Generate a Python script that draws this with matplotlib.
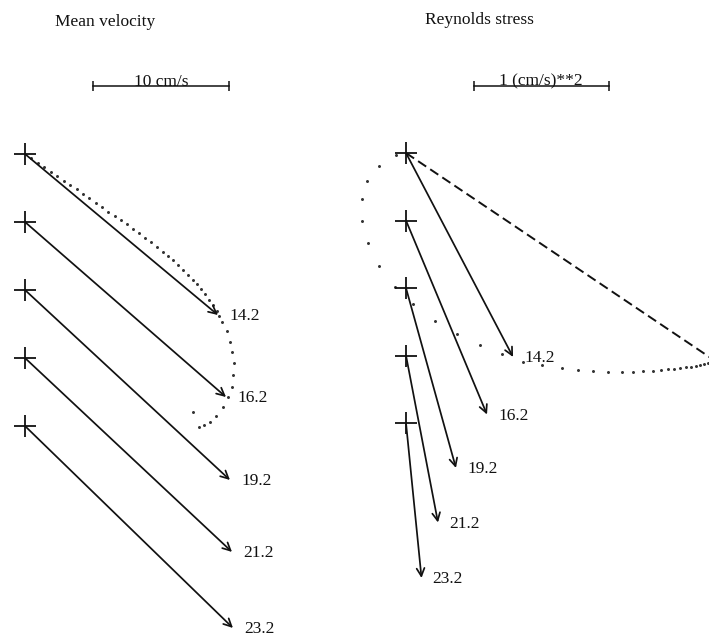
#!/usr/bin/env python3
"""Mean velocity and Reynolds stress vectors at five depths, with the
hodograph traced out as dots, side by side. Writes out.png."""
import matplotlib
matplotlib.use("Agg")
import matplotlib.pyplot as plt

# depth labels, one station per cross (top to bottom)
depths = ["14.2", "16.2", "19.2", "21.2", "23.2"]

# mean velocity components (cm/s)
vel_u = [14.19, 14.78, 15.07, 15.22, 15.29]
vel_v = [-11.84, -12.87, -13.97, -14.26, -14.85]
vel_step = 5.0        # vertical spacing between stations, cm/s
vel_scale = 10.0      # scale bar, cm/s

# velocity hodograph at the top station (cm/s)
vel_path_u = [0.44, 0.96, 1.40, 1.91, 2.35, 2.87, 3.31, 3.82, 4.26, 4.71,
              5.22, 5.66, 6.10, 6.62, 7.06, 7.50, 7.94, 8.38, 8.82, 9.26,
              9.71, 10.15, 10.51, 10.88, 11.25, 11.62, 11.99, 12.35, 12.65,
              12.94, 13.24, 13.53, 13.82, 14.12, 14.26, 14.49, 14.85, 15.07,
              15.22, 15.37, 15.29, 15.22, 14.93, 14.56, 14.04, 13.60, 13.16,
              12.79, 12.35]
vel_path_v = [-0.29, -0.66, -0.96, -1.32, -1.62, -1.99, -2.28, -2.57, -2.94,
              -3.24, -3.60, -3.90, -4.26, -4.56, -4.85, -5.15, -5.51, -5.81,
              -6.18, -6.47, -6.84, -7.21, -7.50, -7.79, -8.16, -8.53, -8.90,
              -9.26, -9.56, -9.93, -10.29, -10.74, -11.10, -11.54, -11.91,
              -12.35, -13.01, -13.82, -14.56, -15.37, -16.25, -17.13, -17.87,
              -18.60, -19.26, -19.71, -19.93, -20.07, -18.97]

# Reynolds stress components ((cm/s)**2)
rs_u = [0.793, 0.600, 0.370, 0.237, 0.115]
rs_v = [-1.511, -1.437, -1.333, -1.237, -1.148]
rs_step = 0.5
rs_scale = 1.0

# stress hodograph at the top station, and its major axis
rs_path_u = [-0.074, -0.200, -0.289, -0.326, -0.326, -0.281, -0.200, -0.081,
             0.052, 0.215, 0.378, 0.548, 0.711, 0.867, 1.007, 1.156, 1.274,
             1.385, 1.496, 1.600, 1.681, 1.756, 1.830, 1.889, 1.941, 1.985,
             2.030, 2.074, 2.111, 2.148, 2.178, 2.207, 2.237]
rs_path_v = [-0.015, -0.096, -0.207, -0.341, -0.504, -0.667, -0.837, -0.993,
             -1.119, -1.244, -1.341, -1.422, -1.489, -1.548, -1.570, -1.593,
             -1.607, -1.615, -1.622, -1.622, -1.622, -1.615, -1.615, -1.607,
             -1.600, -1.600, -1.593, -1.585, -1.585, -1.578, -1.570, -1.563,
             -1.556]
rs_axis_u = [0.0, 2.29]
rs_axis_v = [0.0, -1.54]

FONT = "Liberation Serif"
INK = "#111111"
W, H = 709, 640


def draw_panel(ax, us, vs, step, scale, bar_text):
    for i, (u, v) in enumerate(zip(us, vs)):
        y0 = -i * step
        ax.plot([0], [y0], marker="+", ms=16, mew=1.3, color=INK)
        ax.annotate("", xy=(u, y0 + v), xytext=(0, y0),
                    arrowprops=dict(arrowstyle="->,head_length=0.4,head_width=0.2",
                                    lw=1.25, color=INK, shrinkA=0, shrinkB=0,
                                    mutation_scale=14))
        ax.annotate(depths[i], xy=(u, y0 + v), xytext=(8, -1),
                    textcoords="offset points", ha="left", va="center",
                    fontsize=12.5, family=FONT, color=INK)

    # scale bar one station above the top cross
    x0, yb = step, step
    ax.plot([x0, x0 + scale], [yb, yb], color=INK, lw=1.1)
    ax.plot([x0, x0 + scale], [yb, yb], ls="none", marker="|", ms=7,
            mew=1.1, color=INK)
    ax.annotate(bar_text, xy=(x0 + scale / 2, yb), xytext=(0, 0),
                textcoords="offset points", ha="center", va="baseline",
                fontsize=12.5, family=FONT, color=INK)


def main() -> None:
    fig = plt.figure(figsize=(W / 100, H / 100), dpi=100)
    fig.patch.set_facecolor("white")

    # left panel: 13.6 px per cm/s, top cross at pixel (25, 154)
    ax_l = fig.add_axes([0, 0, 354 / W, 1])
    px = 13.6
    ax_l.set_xlim(-25 / px, (354 - 25) / px)
    ax_l.set_ylim(-(H - 154) / px, 154 / px)
    ax_l.axis("off")
    ax_l.plot(vel_path_u, vel_path_v, ls="none", marker="o", ms=1.15,
              color="#333333")
    draw_panel(ax_l, vel_u, vel_v, vel_step, vel_scale, "10 cm/s")

    # right panel: 135 px per (cm/s)**2, top cross at pixel (406, 153)
    ax_r = fig.add_axes([354 / W, 0, (W - 354) / W, 1])
    pr = 135.0
    ax_r.set_xlim((354 - 406) / pr, (W - 406) / pr)
    ax_r.set_ylim(-(H - 153) / pr, 153 / pr)
    ax_r.axis("off")
    ax_r.plot(rs_axis_u, rs_axis_v, ls=(0, (5, 2.5)), lw=1.4, color=INK)
    ax_r.plot(rs_path_u, rs_path_v, ls="none", marker="o", ms=1.15,
              color="#333333")
    draw_panel(ax_r, rs_u, rs_v, rs_step, rs_scale, "1 (cm/s)**2")

    fig.text(55 / W, 1 - 22 / H, "Mean velocity", ha="left", va="center",
             fontsize=12.5, family=FONT, color=INK)
    fig.text(425 / W, 1 - 20 / H, "Reynolds stress", ha="left", va="center",
             fontsize=12.5, family=FONT, color=INK)

    fig.savefig("out.png", dpi=100, facecolor="white")
    plt.close(fig)


if __name__ == "__main__":
    main()
